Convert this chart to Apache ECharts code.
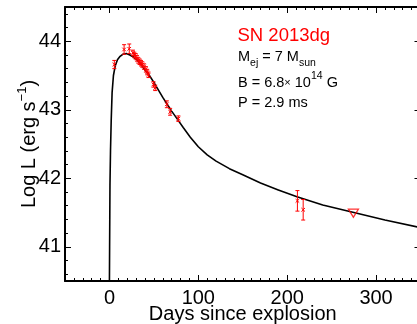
<!DOCTYPE html>
<html>
<head>
<meta charset="utf-8">
<script src="https://cdn.jsdelivr.net/npm/echarts@6/dist/echarts.min.js"></script>
<style>
html,body{margin:0;padding:0;background:#fff;}
#chart{width:417px;height:324px;}
</style>
</head>
<body>
<div id="chart"></div>
<script>
// ---- data ----
const modelDays = [0, 0.2, 0.6, 1.2, 2, 3, 4.5, 6.5, 9, 12, 15, 19, 23, 27, 31, 35, 40, 45, 50, 55, 60, 65, 70, 76, 83, 91, 100, 110, 120, 135, 150, 170, 190, 211, 240, 275, 310, 350];
const modelLogL = [40.5, 41.0, 41.9, 42.4, 42.85, 43.25, 43.5, 43.64, 43.73, 43.78, 43.81, 43.82, 43.80, 43.77, 43.73, 43.67, 43.58, 43.5, 43.4, 43.29, 43.18, 43.08, 42.98, 42.87, 42.74, 42.6, 42.46, 42.34, 42.25, 42.14, 42.05, 41.93, 41.83, 41.73, 41.61, 41.50, 41.39, 41.28];

const obsDays = [5.5, 16.5, 22.3, 26.5, 28.0, 29.5, 31.0, 32.5, 34.0, 35.5, 37.0, 39.0, 41.0, 42.5, 44.0, 49.5, 51.5, 64.6, 68.3, 77.6, 211.5, 218];
const obsLogL = [43.66, 43.88, 43.89, 43.83, 43.80, 43.78, 43.75, 43.72, 43.70, 43.68, 43.66, 43.63, 43.59, 43.55, 43.51, 43.37, 43.32, 43.08, 42.97, 42.87, 41.67, 41.54];
const obsErr  = [0.06, 0.07, 0.07, 0.04, 0.04, 0.04, 0.04, 0.04, 0.04, 0.04, 0.04, 0.04, 0.04, 0.04, 0.04, 0.04, 0.04, 0.05, 0.05, 0.04, 0.15, 0.15];

const limDays = [274.5];
const limLogL = [41.49];

const xTickLabels = [0, 100, 200, 300];
const yTickLabels = [41, 42, 43, 44];

// ---- minor tick positions ----
const xMinor = [];
for (let v = -50; v <= 350; v += 10) xMinor.push(v);
const yMinor = [];
for (let k = 406; k <= 444; k += 2) yMinor.push(k / 10);

const FONT = '"Liberation Sans", Arial, Helvetica, sans-serif';
const chart = echarts.init(document.getElementById('chart'), null, {renderer: 'canvas'});

const gridRect = {left: 65, top: 7, width: 355.5, height: 274, containLabel: false, outerBoundsMode: 'none'};
const axisLineStyle = {show: true, onZero: false, lineStyle: {color: '#000', width: 2}};
const noLine = {show: false, onZero: false};

function xAx(grid, pos, major, labels) {
  return {
    type: 'value', gridIndex: grid, position: pos, min: -50, max: 350,
    axisLine: major ? axisLineStyle : noLine,
    axisTick: {show: true, inside: true, length: major ? 6 : 3, lineStyle: {color: '#000', width: 1},
      customValues: major ? xTickLabels : xMinor},
    axisLabel: labels ? {show: true, customValues: xTickLabels, margin: 7, color: '#000', fontSize: 20, fontFamily: FONT} : {show: false},
    splitLine: {show: false}
  };
}
function yAx(grid, pos, major, labels) {
  return {
    type: 'value', gridIndex: grid, position: pos, min: 40.5, max: 44.5,
    axisLine: major ? axisLineStyle : noLine,
    axisTick: {show: true, inside: true, length: major ? 6 : 3, lineStyle: {color: '#000', width: 1},
      customValues: major ? yTickLabels : yMinor},
    axisLabel: labels ? {show: true, customValues: yTickLabels, margin: 4, color: '#000', fontSize: 20, fontFamily: FONT} : {show: false},
    splitLine: {show: false}
  };
}

const xAxes = [xAx(0, 'bottom', true, true), xAx(0, 'top', true, false), xAx(1, 'bottom', false, false), xAx(1, 'top', false, false)];
xAxes[0].name = 'Days since explosion';
xAxes[0].nameLocation = 'middle';
xAxes[0].nameGap = 23;
xAxes[0].nameMoveOverlap = false;
xAxes[0].nameTextStyle = {color: '#000', fontSize: 20, fontFamily: FONT};

const yAxes = [yAx(0, 'left', true, true), yAx(0, 'right', true, false), yAx(1, 'left', false, false), yAx(1, 'right', false, false)];
yAxes[0].name = '{a|Log L (erg s}{s|−1}{a|)}';
yAxes[0].nameLocation = 'middle';
yAxes[0].nameRotate = 90;
yAxes[0].nameGap = 23;
yAxes[0].nameMoveOverlap = false;
yAxes[0].nameTextStyle = {
  color: '#000', fontFamily: FONT,
  rich: {
    a: {fontSize: 20, lineHeight: 26, color: '#000', fontFamily: FONT},
    s: {fontSize: 13, lineHeight: 13, verticalAlign: 'top', color: '#000', fontFamily: FONT}
  }
};

const modelData = modelDays.map((d, i) => [d, modelLogL[i]]);
const obsData = obsDays.map((d, i) => [d, obsLogL[i], obsErr[i]]);
const limData = limDays.map((d, i) => [d, limLogL[i]]);

const RED = '#ff0000';

const richInfo = {
  m: {fontSize: 14.5, lineHeight: 24, color: '#000', fontFamily: FONT},
  sub: {fontSize: 10.5, lineHeight: 10.6, verticalAlign: 'bottom', color: '#000', fontFamily: FONT},
  sup: {fontSize: 10.5, lineHeight: 19, verticalAlign: 'top', color: '#000', fontFamily: FONT},
  x: {fontSize: 11, lineHeight: 24, color: '#000', fontFamily: FONT}
};

const option = {
  animation: false,
  backgroundColor: '#fff',
  textStyle: {fontFamily: FONT},
  grid: [Object.assign({}, gridRect), Object.assign({}, gridRect)],
  xAxis: xAxes,
  yAxis: yAxes,
  series: [
    {
      // magnetar model light curve, drawn as one polyline through the axis scales
      type: 'custom', xAxisIndex: 0, yAxisIndex: 0, data: modelData, z: 2, clip: true,
      encode: {x: 0, y: 1},
      renderItem: function (params, api) {
        if (params.dataIndex !== 0) return null;
        const pts = modelData.map(p => api.coord(p));
        return {
          type: 'polyline',
          shape: {points: pts},
          style: {stroke: '#000', lineWidth: 1.6, fill: null, lineJoin: 'round'}
        };
      }
    },
    {
      type: 'custom', xAxisIndex: 0, yAxisIndex: 0, data: obsData, z: 3,
      encode: {x: 0, y: 1},
      renderItem: function (params, api) {
        const x = api.value(0), y = api.value(1), e = api.value(2);
        const c = api.coord([x, y]);
        const hi = api.coord([x, y + e]);
        const lo = api.coord([x, y - e]);
        const w = 2, m = 1.8;
        const st = {stroke: RED, lineWidth: 1};
        return {
          type: 'group',
          children: [
            {type: 'line', shape: {x1: c[0], y1: hi[1], x2: c[0], y2: lo[1]}, style: st},
            {type: 'line', shape: {x1: c[0] - w, y1: hi[1], x2: c[0] + w, y2: hi[1]}, style: st},
            {type: 'line', shape: {x1: c[0] - w, y1: lo[1], x2: c[0] + w, y2: lo[1]}, style: st},
            {type: 'line', shape: {x1: c[0] - m, y1: c[1] - m, x2: c[0] + m, y2: c[1] + m}, style: st},
            {type: 'line', shape: {x1: c[0] - m, y1: c[1] + m, x2: c[0] + m, y2: c[1] - m}, style: st}
          ]
        };
      }
    },
    {
      type: 'scatter', xAxisIndex: 0, yAxisIndex: 0, data: limData, z: 4,
      symbol: 'triangle', symbolRotate: 180, symbolSize: [10, 8],
      itemStyle: {color: 'rgba(255,255,255,0)', borderColor: RED, borderWidth: 1.3}
    }
  ],
  graphic: [
    {type: 'text', x: 237.5, y: 35.5, style: {text: 'SN 2013dg', fill: RED, font: '18.5px ' + FONT, align: 'left', verticalAlign: 'middle'}},
    {type: 'text', x: 238, y: 57, style: {text: '{m|M}{sub|ej}{m| = 7 M}{sub|sun}', rich: richInfo, align: 'left', verticalAlign: 'middle'}},
    {type: 'text', x: 238, y: 82.5, style: {text: '{m|B = 6.8}{x|×}{m| 10}{sup|14}{m| G}', rich: richInfo, align: 'left', verticalAlign: 'middle'}},
    {type: 'text', x: 238, y: 103.3, style: {text: '{m|P = 2.9 ms}', rich: richInfo, align: 'left', verticalAlign: 'middle'}}
  ]
};

chart.setOption(option);
</script>
</body>
</html>
